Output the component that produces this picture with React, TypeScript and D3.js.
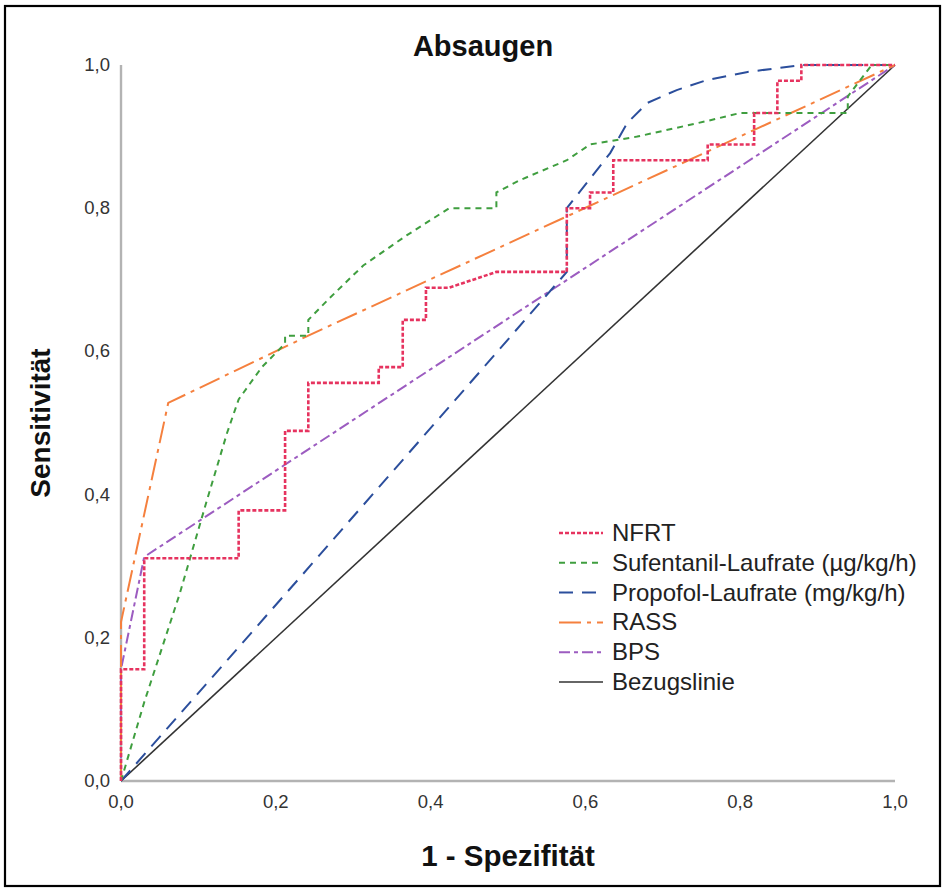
import React from "react";
import * as d3 from "d3";

type Pt = [number, number];

const seriesNames = [
  "NFRT",
  "Sufentanil-Laufrate (µg/kg/h)",
  "Propofol-Laufrate (mg/kg/h)",
  "RASS",
  "BPS",
  "Bezugslinie",
];

const nfrt: Pt[] = [
  [0, 0], [0, 0.156], [0.030, 0.156], [0.030, 0.311], [0.152, 0.311], [0.152, 0.378],
  [0.212, 0.378], [0.212, 0.489], [0.242, 0.489], [0.242, 0.556], [0.333, 0.556],
  [0.333, 0.578], [0.364, 0.578], [0.364, 0.644], [0.394, 0.644], [0.394, 0.689],
  [0.424, 0.689], [0.485, 0.711], [0.576, 0.711], [0.576, 0.8], [0.606, 0.8],
  [0.606, 0.822], [0.636, 0.822], [0.636, 0.867], [0.758, 0.867], [0.758, 0.889],
  [0.818, 0.889], [0.818, 0.933], [0.848, 0.933], [0.848, 0.978], [0.879, 0.978],
  [0.879, 1], [1, 1],
];

const sufentanil: Pt[] = [
  [0, 0], [0.03, 0.11], [0.076, 0.262], [0.111, 0.392], [0.137, 0.486], [0.152, 0.533],
  [0.182, 0.578], [0.212, 0.611], [0.212, 0.622], [0.242, 0.622], [0.242, 0.644],
  [0.27, 0.675], [0.313, 0.72], [0.369, 0.762], [0.424, 0.8], [0.485, 0.8], [0.485, 0.822],
  [0.515, 0.839], [0.576, 0.867], [0.606, 0.889], [0.667, 0.9], [0.758, 0.922],
  [0.8, 0.933], [0.939, 0.933], [0.939, 0.956], [0.97, 1], [1, 1],
];

const propofol: Pt[] = [
  [0, 0], [0.231, 0.284], [0.464, 0.572], [0.576, 0.711], [0.576, 0.8], [0.632, 0.877],
  [0.654, 0.919], [0.68, 0.947], [0.718, 0.965], [0.757, 0.979], [0.808, 0.99],
  [0.879, 1], [1, 1],
];

const rass: Pt[] = [
  [0, 0], [0, 0.222], [0.061, 0.528], [0.242, 0.622], [1, 1],
];

const bps: Pt[] = [
  [0, 0], [0, 0.156], [0.03, 0.313], [1, 1],
];

const reference: Pt[] = [
  [0, 0], [1, 1],
];

const xTicks = [0, 0.2, 0.4, 0.6, 0.8, 1.0];
const yTicks = [0, 0.2, 0.4, 0.6, 0.8, 1.0];

const styles = [
  { color: "#e6335f", dash: "4,2", width: 2.6 },
  { color: "#3f9e3f", dash: "6,5", width: 2 },
  { color: "#2b4e9c", dash: "14,9", width: 2 },
  { color: "#f5803e", dash: "22,6,4,6", width: 2 },
  { color: "#9c5cc0", dash: "11,4,4,4", width: 2 },
  { color: "#333333", dash: "", width: 1.6 },
];

const allSeries: Pt[][] = [nfrt, sufentanil, propofol, rass, bps, reference];

export default function App() {
  const x = d3.scaleLinear().domain([0, 1]).range([121, 895]);
  const y = d3.scaleLinear().domain([0, 1]).range([781, 65]);
  const line = d3
    .line<Pt>()
    .x((d) => x(d[0]))
    .y((d) => y(d[1]));
  const fmt = (v: number) => v.toFixed(1).replace(".", ",");
  const drawOrder = [5, 4, 3, 2, 1, 0];
  const font = "'Liberation Sans', Arial, sans-serif";

  return (
    <svg
      width={947}
      height={890}
      style={{ position: "absolute", left: 0, top: 0, background: "#fff" }}
      fontFamily={font}
    >
      <rect x={0} y={0} width={947} height={890} fill="#fff" />
      <rect x={5} y={6} width={935} height={880} fill="none" stroke="#000" strokeWidth={2.2} />
      <text x={483} y={56} textAnchor="middle" fontSize={29} fontWeight="bold" fill="#111">
        Absaugen
      </text>
      {/* axes */}
      <line x1={x(0)} x2={x(0)} y1={y(1)} y2={y(0)} stroke="#b3b3b3" strokeWidth={2.4} />
      <line x1={x(0)} x2={x(1)} y1={y(0)} y2={y(0)} stroke="#b3b3b3" strokeWidth={2.4} />
      {yTicks.map((t) => (
        <text key={"y" + t} x={110} y={y(t) + 6} textAnchor="end" fontSize={18.5} fill="#333">
          {fmt(t)}
        </text>
      ))}
      {xTicks.map((t) => (
        <text key={"x" + t} x={x(t)} y={808} textAnchor="middle" fontSize={18.5} fill="#333">
          {fmt(t)}
        </text>
      ))}
      <text x={508} y={866} textAnchor="middle" fontSize={29.5} fontWeight="bold" fill="#111">
        1 - Spezifität
      </text>
      <text
        transform={`translate(50,423) rotate(-90)`}
        textAnchor="middle"
        fontSize={28}
        fontWeight="bold"
        fill="#111"
      >
        Sensitivität
      </text>
      {drawOrder.map((i) => (
        <path
          key={"s" + i}
          d={line(allSeries[i]) || ""}
          fill="none"
          stroke={styles[i].color}
          strokeWidth={styles[i].width}
          strokeDasharray={styles[i].dash || undefined}
          strokeLinejoin="miter"
        />
      ))}
      {/* legend */}
      {seriesNames.map((name, i) => {
        const ly = 533 + i * 29.8;
        return (
          <g key={"l" + i}>
            <line
              x1={559}
              x2={603}
              y1={ly}
              y2={ly}
              stroke={styles[i].color}
              strokeWidth={styles[i].width}
              strokeDasharray={styles[i].dash || undefined}
            />
            <text x={612} y={ly + 8} fontSize={24} fill="#222">
              {name}
            </text>
          </g>
        );
      })}
    </svg>
  );
}
